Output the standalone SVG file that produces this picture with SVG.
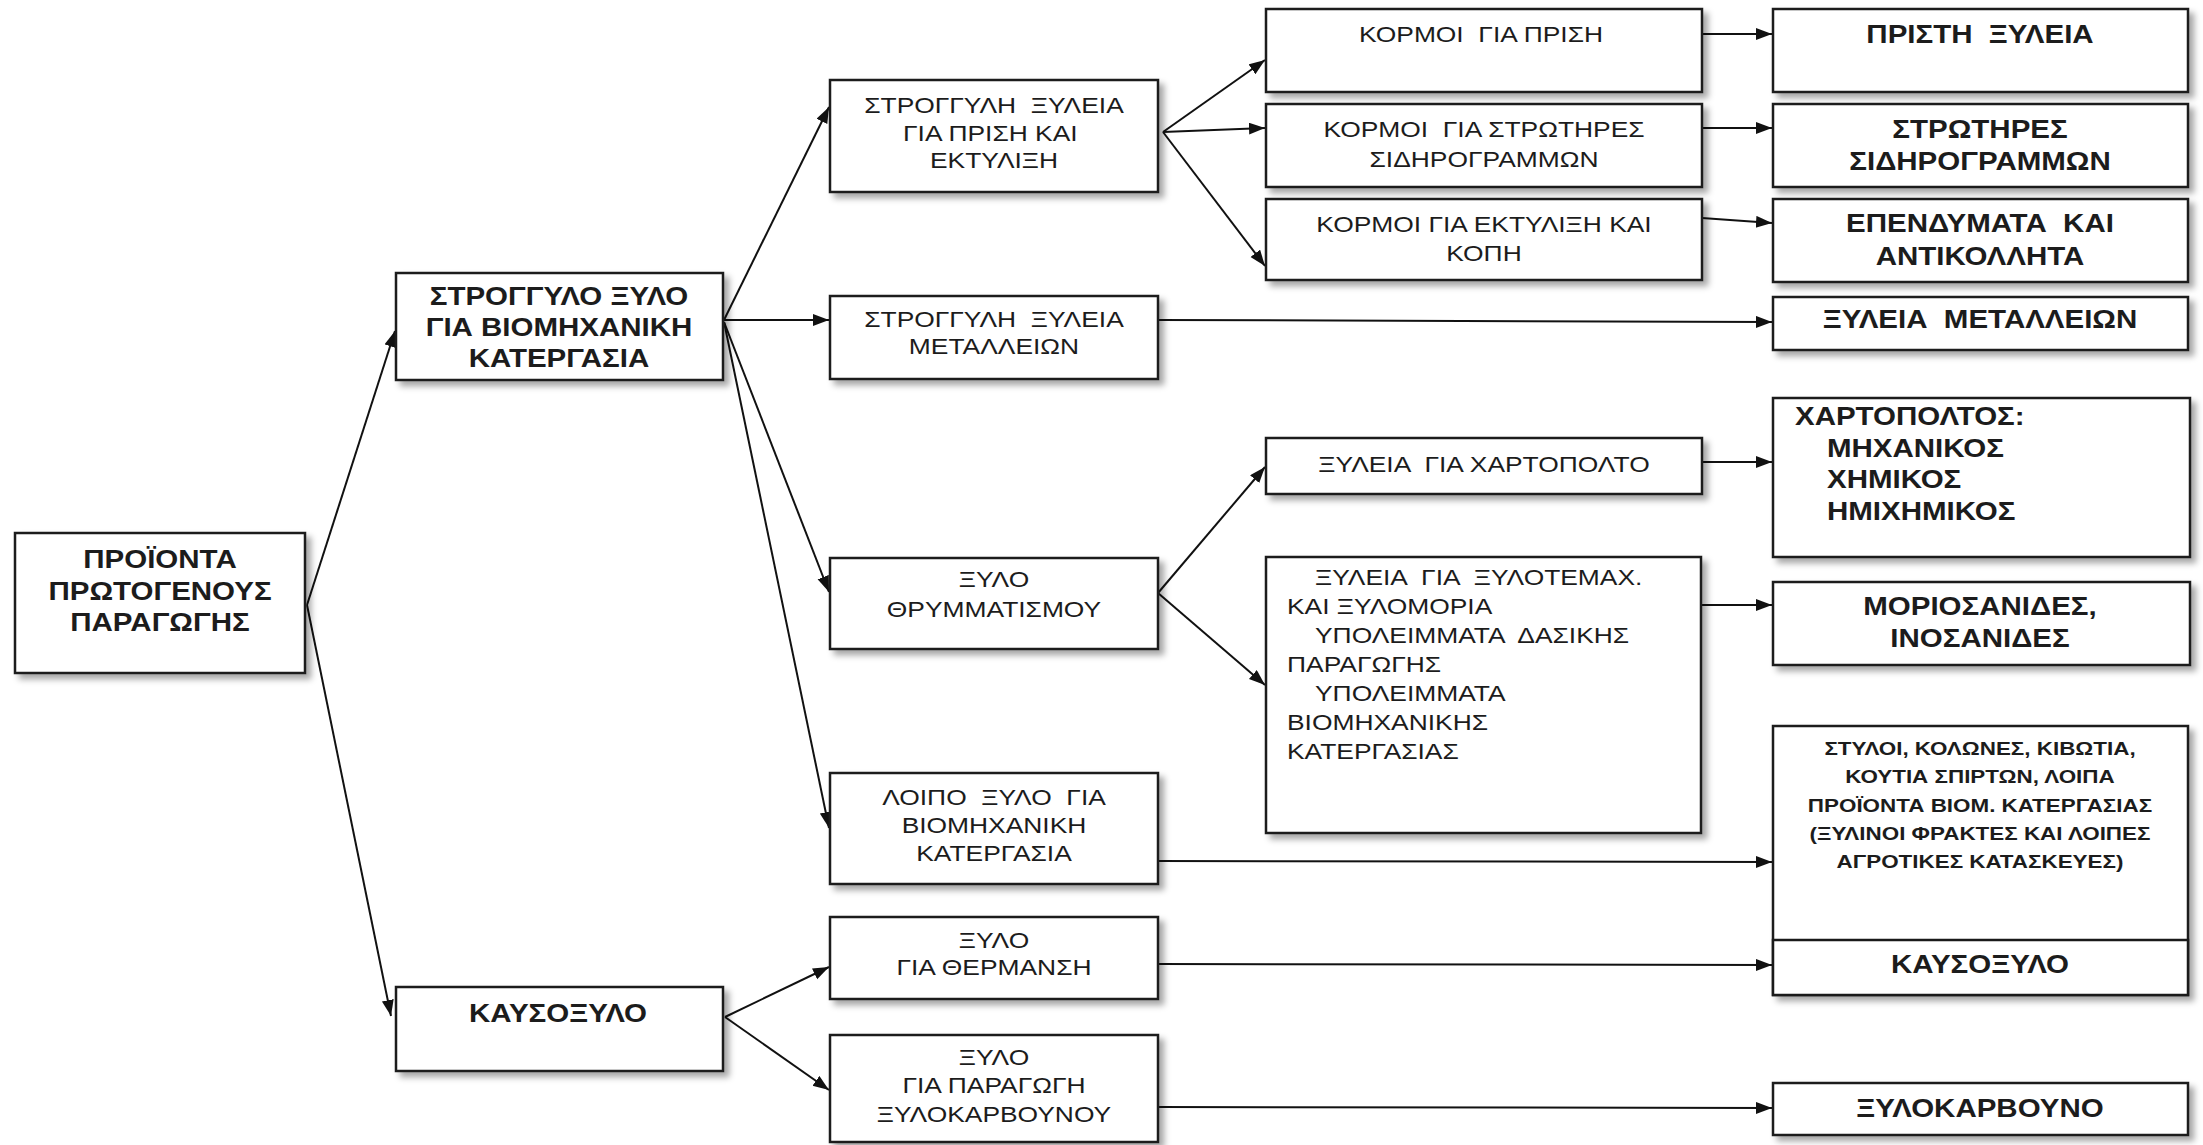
<svg xmlns="http://www.w3.org/2000/svg" width="2203" height="1145" viewBox="0 0 2203 1145">
<defs>
<filter id="sh" x="-10%" y="-10%" width="130%" height="140%">
<feDropShadow dx="5" dy="5" stdDeviation="3" flood-color="#000" flood-opacity="0.35"/>
</filter>
<marker id="ah" markerUnits="userSpaceOnUse" markerWidth="18" markerHeight="14" refX="16" refY="6" orient="auto">
<path d="M0,0 L16,6 L0,12 Z" fill="#111"/>
</marker>
</defs>
<style>
rect{fill:#fff;stroke:#1a1a1a;stroke-width:2.5}
.box{filter:url(#sh)}
text{font-family:"Liberation Sans",Arial,sans-serif;fill:#1c1c1c;text-anchor:middle;white-space:pre}
.n{font-size:22px}
.b{font-size:25px;font-weight:bold}
.s{font-size:19px;font-weight:bold}
.l{text-anchor:start}
#connectors line{stroke:#111;stroke-width:2;marker-end:url(#ah)}
#connectors line.p{marker-end:none}
</style>
<rect x="0" y="0" width="2203" height="1145" style="fill:#fff;stroke:none"/>

<g id="connectors">
<line x1="307" y1="605" x2="395" y2="331"/>
<line x1="307" y1="605" x2="391" y2="1016"/>
<line x1="724" y1="320" x2="829" y2="107"/>
<line x1="724" y1="320" x2="829" y2="320"/>
<line x1="724" y1="322" x2="829" y2="592"/>
<line x1="724" y1="322" x2="829" y2="828"/>
<line x1="1163" y1="132" x2="1265" y2="60"/>
<line x1="1163" y1="132" x2="1265" y2="128"/>
<line x1="1163" y1="132" x2="1265" y2="266"/>
<line x1="1158" y1="593" x2="1265" y2="467"/>
<line x1="1158" y1="593" x2="1265" y2="685"/>
<line x1="725" y1="1017" x2="829" y2="967"/>
<line x1="725" y1="1017" x2="829" y2="1090"/>
<line x1="1702" y1="34" x2="1772" y2="34"/>
<line x1="1702" y1="128" x2="1772" y2="128"/>
<line x1="1702" y1="218" x2="1772" y2="223"/>
<line x1="1158" y1="320" x2="1772" y2="322"/>
<line x1="1702" y1="462" x2="1772" y2="462"/>
<line x1="1701" y1="605" x2="1772" y2="605"/>
<line x1="1158" y1="861" x2="1772" y2="862"/>
<line x1="1158" y1="964" x2="1772" y2="965"/>
<line x1="1158" y1="1107" x2="1772" y2="1108"/>
</g>

<g id="n-proionta">
<rect class="box" x="15" y="533" width="290" height="140"/>
<text class="b" transform="translate(160,568) scale(1.18,1)">ΠΡΟΪΟΝΤΑ</text>
<text class="b" transform="translate(160,600) scale(1.18,1)">ΠΡΩΤΟΓΕΝΟΥΣ</text>
<text class="b" transform="translate(160,631) scale(1.18,1)">ΠΑΡΑΓΩΓΗΣ</text>
</g>

<g id="n-strogylo">
<rect class="box" x="396" y="273" width="327" height="107"/>
<text class="b" transform="translate(559,305) scale(1.18,1)">ΣΤΡΟΓΓΥΛΟ ΞΥΛΟ</text>
<text class="b" transform="translate(559,336) scale(1.18,1)">ΓΙΑ ΒΙΟΜΗΧΑΝΙΚΗ</text>
<text class="b" transform="translate(559,367) scale(1.18,1)">ΚΑΤΕΡΓΑΣΙΑ</text>
</g>

<g id="n-kausoxylo">
<rect class="box" x="396" y="987" width="327" height="84"/>
<text class="b" transform="translate(558,1022) scale(1.18,1)">ΚΑΥΣΟΞΥΛΟ</text>
</g>

<g id="n-prisi-ektylixi">
<rect class="box" x="830" y="80" width="328" height="112"/>
<text class="n" transform="translate(994,113) scale(1.2,1)">ΣΤΡΟΓΓΥΛΗ  ΞΥΛΕΙΑ</text>
<text class="n" transform="translate(994,141) scale(1.2,1)">ΓΙΑ ΠΡΙΣΗ ΚΑΙ </text>
<text class="n" transform="translate(994,168) scale(1.2,1)">ΕΚΤΥΛΙΞΗ</text>
</g>

<g id="n-metalleion">
<rect class="box" x="830" y="296" width="328" height="83"/>
<text class="n" transform="translate(994,327) scale(1.2,1)">ΣΤΡΟΓΓΥΛΗ  ΞΥΛΕΙΑ</text>
<text class="n" transform="translate(994,354) scale(1.2,1)">ΜΕΤΑΛΛΕΙΩΝ</text>
</g>

<g id="n-thrymmatismou">
<rect class="box" x="830" y="558" width="328" height="91"/>
<text class="n" transform="translate(994,587) scale(1.2,1)">ΞΥΛΟ</text>
<text class="n" transform="translate(994,617) scale(1.2,1)">ΘΡΥΜΜΑΤΙΣΜΟΥ</text>
</g>

<g id="n-loipo">
<rect class="box" x="830" y="773" width="328" height="111"/>
<text class="n" transform="translate(994,805) scale(1.2,1)">ΛΟΙΠΟ  ΞΥΛΟ  ΓΙΑ</text>
<text class="n" transform="translate(994,833) scale(1.2,1)">ΒΙΟΜΗΧΑΝΙΚΗ</text>
<text class="n" transform="translate(994,861) scale(1.2,1)">ΚΑΤΕΡΓΑΣΙΑ</text>
</g>

<g id="n-thermansi">
<rect class="box" x="830" y="917" width="328" height="82"/>
<text class="n" transform="translate(994,948) scale(1.2,1)">ΞΥΛΟ</text>
<text class="n" transform="translate(994,975) scale(1.2,1)">ΓΙΑ ΘΕΡΜΑΝΣΗ</text>
</g>

<g id="n-paragogi">
<rect class="box" x="830" y="1035" width="328" height="107"/>
<text class="n" transform="translate(994,1065) scale(1.2,1)">ΞΥΛΟ</text>
<text class="n" transform="translate(994,1093) scale(1.2,1)">ΓΙΑ ΠΑΡΑΓΩΓΗ</text>
<text class="n" transform="translate(994,1122) scale(1.2,1)">ΞΥΛΟΚΑΡΒΟΥΝΟΥ</text>
</g>

<g id="n-kormoi-prisi">
<rect class="box" x="1266" y="9" width="436" height="83"/>
<text class="n" transform="translate(1481,42) scale(1.2,1)">ΚΟΡΜΟΙ  ΓΙΑ ΠΡΙΣΗ</text>
</g>

<g id="n-kormoi-strotires">
<rect class="box" x="1266" y="104" width="436" height="83"/>
<text class="n" transform="translate(1484,137) scale(1.2,1)">ΚΟΡΜΟΙ  ΓΙΑ ΣΤΡΩΤΗΡΕΣ</text>
<text class="n" transform="translate(1484,167) scale(1.2,1)">ΣΙΔΗΡΟΓΡΑΜΜΩΝ</text>
</g>

<g id="n-kormoi-ektylixi">
<rect class="box" x="1266" y="199" width="436" height="81"/>
<text class="n" transform="translate(1484,232) scale(1.2,1)">ΚΟΡΜΟΙ ΓΙΑ ΕΚΤΥΛΙΞΗ ΚΑΙ</text>
<text class="n" transform="translate(1484,261) scale(1.2,1)">ΚΟΠΗ</text>
</g>

<g id="n-xylia-xartopolto">
<rect class="box" x="1266" y="438" width="436" height="56"/>
<text class="n" transform="translate(1484,472) scale(1.2,1)">ΞΥΛΕΙΑ  ΓΙΑ ΧΑΡΤΟΠΟΛΤΟ</text>
</g>

<g id="n-xylia-xylotemax">
<rect class="box" x="1266" y="557" width="435" height="276"/>
<text class="n l" transform="translate(1315,585) scale(1.2,1)">ΞΥΛΕΙΑ  ΓΙΑ  ΞΥΛΟΤΕΜΑΧ.</text>
<text class="n l" transform="translate(1287,614) scale(1.2,1)">ΚΑΙ ΞΥΛΟΜΟΡΙΑ</text>
<text class="n l" transform="translate(1315,643) scale(1.2,1)">ΥΠΟΛΕΙΜΜΑΤΑ  ΔΑΣΙΚΗΣ</text>
<text class="n l" transform="translate(1287,672) scale(1.2,1)">ΠΑΡΑΓΩΓΗΣ</text>
<text class="n l" transform="translate(1315,701) scale(1.2,1)">ΥΠΟΛΕΙΜΜΑΤΑ</text>
<text class="n l" transform="translate(1287,730) scale(1.2,1)">ΒΙΟΜΗΧΑΝΙΚΗΣ</text>
<text class="n l" transform="translate(1287,759) scale(1.2,1)">ΚΑΤΕΡΓΑΣΙΑΣ</text>
</g>

<g id="n-pristi">
<rect class="box" x="1773" y="9" width="415" height="83"/>
<text class="b" transform="translate(1980,43) scale(1.18,1)">ΠΡΙΣΤΗ  ΞΥΛΕΙΑ</text>
</g>

<g id="n-strotires">
<rect class="box" x="1773" y="104" width="415" height="83"/>
<text class="b" transform="translate(1980,138) scale(1.18,1)">ΣΤΡΩΤΗΡΕΣ</text>
<text class="b" transform="translate(1980,170) scale(1.18,1)">ΣΙΔΗΡΟΓΡΑΜΜΩΝ</text>
</g>

<g id="n-ependymata">
<rect class="box" x="1773" y="199" width="415" height="83"/>
<text class="b" transform="translate(1980,232) scale(1.18,1)">ΕΠΕΝΔΥΜΑΤΑ  ΚΑΙ</text>
<text class="b" transform="translate(1980,265) scale(1.18,1)">ΑΝΤΙΚΟΛΛΗΤΑ</text>
</g>

<g id="n-xylia-metalleion">
<rect class="box" x="1773" y="297" width="415" height="53"/>
<text class="b" transform="translate(1980,328) scale(1.18,1)">ΞΥΛΕΙΑ  ΜΕΤΑΛΛΕΙΩΝ</text>
</g>

<g id="n-xartopoltos">
<rect class="box" x="1773" y="398" width="417" height="159"/>
<text class="b l" transform="translate(1795,425) scale(1.18,1)">ΧΑΡΤΟΠΟΛΤΟΣ:</text>
<text class="b l" transform="translate(1827,457) scale(1.18,1)">ΜΗΧΑΝΙΚΟΣ</text>
<text class="b l" transform="translate(1827,488) scale(1.18,1)">ΧΗΜΙΚΟΣ</text>
<text class="b l" transform="translate(1827,520) scale(1.18,1)">ΗΜΙΧΗΜΙΚΟΣ</text>
</g>

<g id="n-moriosanides">
<rect class="box" x="1773" y="582" width="417" height="83"/>
<text class="b" transform="translate(1980,615) scale(1.18,1)">ΜΟΡΙΟΣΑΝΙΔΕΣ,</text>
<text class="b" transform="translate(1980,647) scale(1.18,1)">ΙΝΟΣΑΝΙΔΕΣ</text>
</g>

<g id="n-styloi">
<rect class="box" x="1773" y="726" width="415" height="269"/>
<text class="s" transform="translate(1980,755) scale(1.18,1)">ΣΤΥΛΟΙ, ΚΟΛΩΝΕΣ, ΚΙΒΩΤΙΑ,</text>
<text class="s" transform="translate(1980,783) scale(1.18,1)">ΚΟΥΤΙΑ ΣΠΙΡΤΩΝ, ΛΟΙΠΑ</text>
<text class="s" transform="translate(1980,812) scale(1.18,1)">ΠΡΟΪΟΝΤΑ ΒΙΟΜ. ΚΑΤΕΡΓΑΣΙΑΣ</text>
<text class="s" transform="translate(1980,840) scale(1.18,1)">(ΞΥΛΙΝΟΙ ΦΡΑΚΤΕΣ ΚΑΙ ΛΟΙΠΕΣ</text>
<text class="s" transform="translate(1980,868) scale(1.18,1)">ΑΓΡΟΤΙΚΕΣ ΚΑΤΑΣΚΕΥΕΣ)</text>
</g>

<g id="n-kausoxylo-out">
<rect x="1773" y="940" width="415" height="55"/>
<text class="b" transform="translate(1980,973) scale(1.18,1)">ΚΑΥΣΟΞΥΛΟ</text>
</g>

<g id="n-xylokarvouno">
<rect class="box" x="1773" y="1083" width="415" height="52"/>
<text class="b" transform="translate(1980,1117) scale(1.18,1)">ΞΥΛΟΚΑΡΒΟΥΝΟ</text>
</g>
</svg>
